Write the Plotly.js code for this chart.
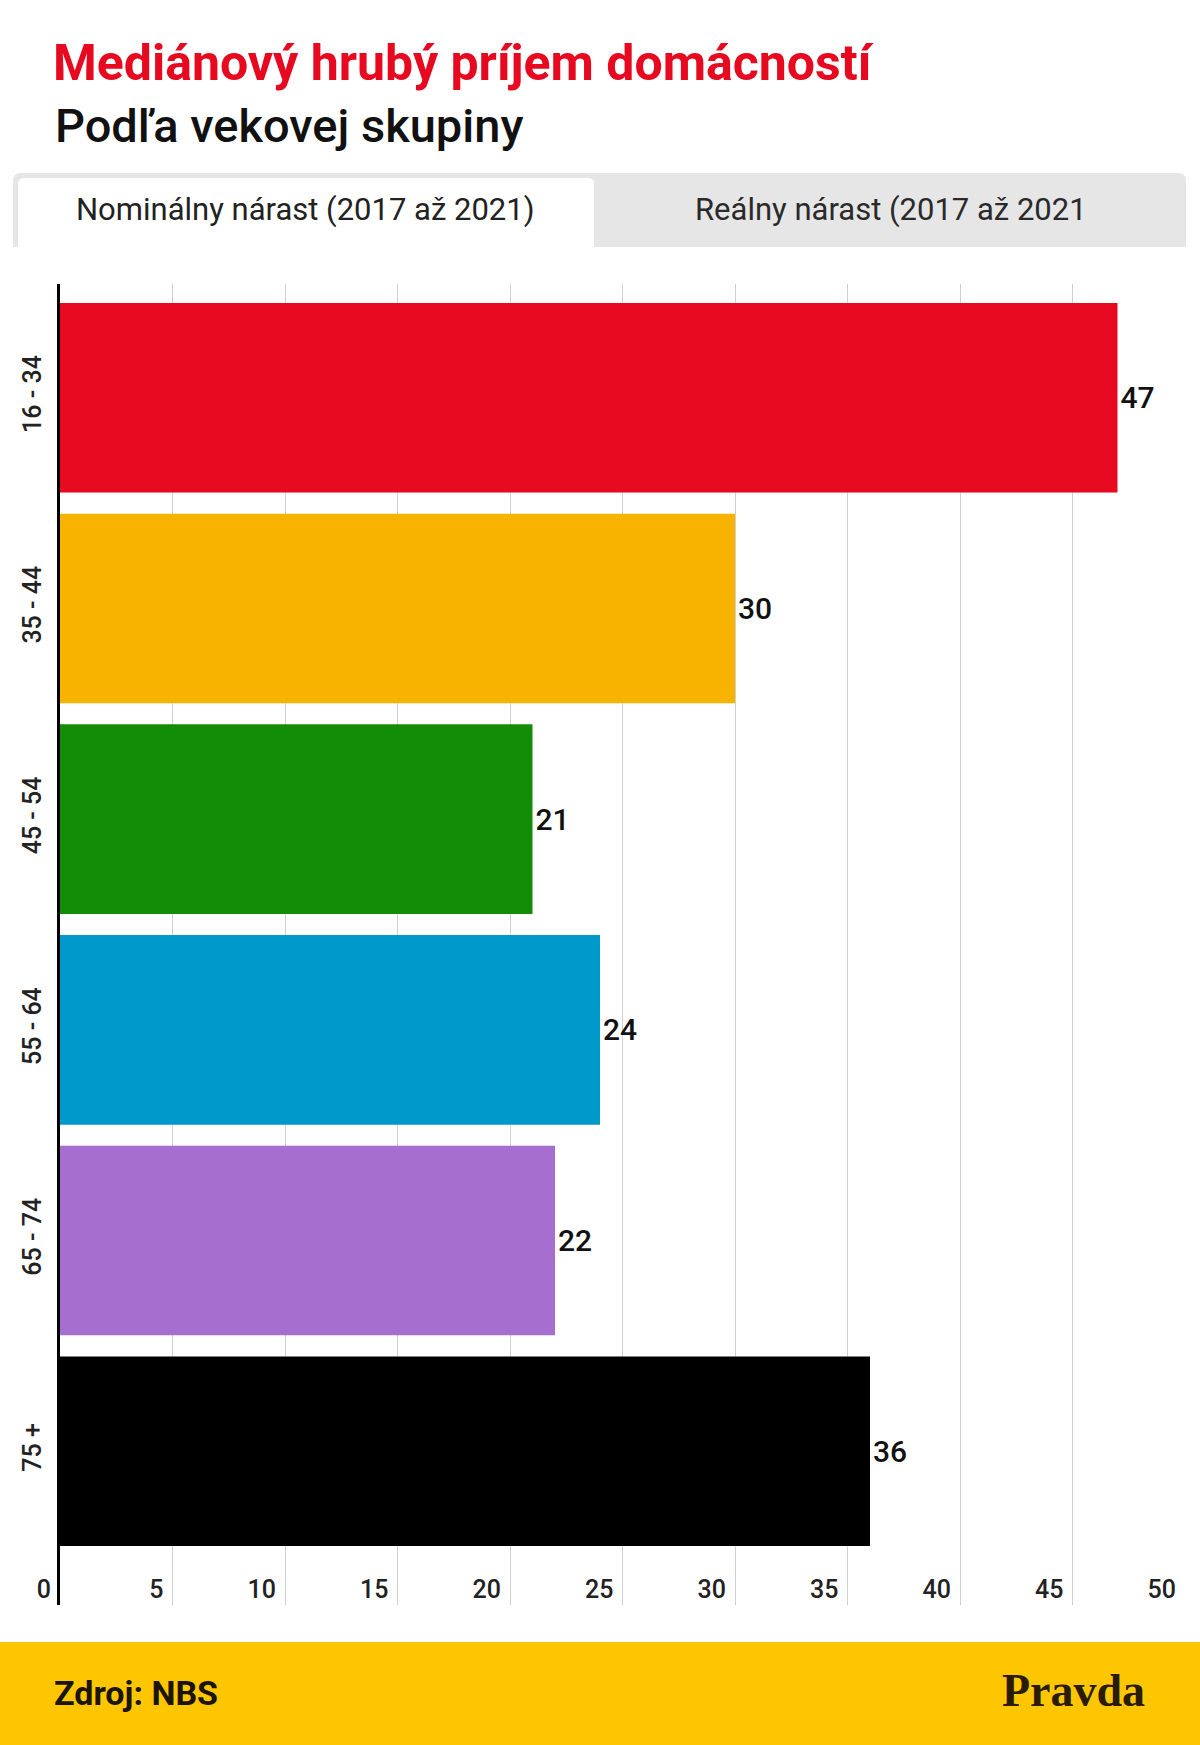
<!DOCTYPE html>
<html>
<head>
<meta charset="utf-8">
<script src="https://cdn.plot.ly/plotly-3.0.1.min.js"></script>
<style>html,body{margin:0;padding:0;background:#fff;}#chart{width:1200px;height:1745px;}</style>
</head>
<body>
<div id="chart"></div>
<script>
// ---- data ----
const categories = ['16 - 34', '35 - 44', '45 - 54', '55 - 64', '65 - 74', '75 +'];
const values = [47, 30, 21, 24, 22, 36];
const barColors = ['#E6091F', '#F8B300', '#138C07', '#0099CC', '#A66ECE', '#000000'];
const xTicks = [0, 5, 10, 15, 20, 25, 30, 35, 40, 45, 50];
const titleText = 'Mediánový hrubý príjem domácností';
const subtitleText = 'Podľa vekovej skupiny';
const tabActive = 'Nominálny nárast (2017 až 2021)';
const tabInactive = 'Reálny nárast (2017 až 2021';
const sourceText = 'Zdroj: NBS';
const logoText = 'Pravda';

// ---- layout helpers (pixel -> paper) ----
const W = 1200, H = 1745;
const M = {l: 60, r: 15, t: 284, b: 140};
const PW = W - M.l - M.r, PH = H - M.t - M.b;
const px = x => (x - M.l) / PW;
const py = y => (H - M.b - y) / PH;

function roundedTopRect(x0, y0, x1, y1, r) {
  const rx = r / PW, ry = r / PH;
  const X0 = px(x0), X1 = px(x1), Y0 = py(y0), Y1 = py(y1);
  return `M ${X0},${Y1} L ${X0},${Y0 - ry} Q ${X0},${Y0} ${X0 + rx},${Y0} ` +
         `L ${X1 - rx},${Y0} Q ${X1},${Y0} ${X1},${Y0 - ry} L ${X1},${Y1} Z`;
}

const font = 'Roboto, "Open Sans", sans-serif';

const trace = {
  type: 'bar',
  orientation: 'h',
  y: categories,
  x: values,
  marker: {color: barColors, line: {width: 0}},
  text: values.map(String),
  textposition: 'outside',
  constraintext: 'none',
  cliponaxis: false,
  textfont: {family: font, size: 30, color: '#111111', weight: 500},
  hoverinfo: 'skip'
};

const layout = {
  width: W, height: H,
  margin: M,
  paper_bgcolor: '#ffffff',
  plot_bgcolor: '#ffffff',
  showlegend: false,
  bargap: 0.1,
  title: {
    text: titleText,
    x: 53 / W, xanchor: 'left', xref: 'container',
    y: 1 - 62 / H, yanchor: 'middle', yref: 'container',
    font: {family: font, size: 50, color: '#E6091F', weight: 700}
  },
  xaxis: {
    range: [0, 50],
    tickvals: xTicks,
    ticktext: xTicks.map(String),
    showgrid: true,
    gridcolor: '#cfcfcf',
    gridwidth: 1,
    zeroline: false,
    showline: false,
    ticks: '',
    ticklabelposition: 'inside left',
    ticklabeloverflow: 'allow',
    ticklabelshift: -9,
    ticklabelstandoff: -4,
    tickfont: {family: font, size: 25, color: '#222222', weight: 500},
    fixedrange: true
  },
  yaxis: {
    type: 'category',
    categoryorder: 'array',
    categoryarray: categories,
    range: [5.73, -0.54],
    showline: true,
    linecolor: '#000000',
    linewidth: 3,
    showgrid: false,
    zeroline: false,
    ticks: '',
    tickangle: -90,
    ticklabelstandoff: 6,
    tickfont: {family: font, size: 25, color: '#222222', weight: 500},
    fixedrange: true
  },
  shapes: [
    {type: 'path', xref: 'paper', yref: 'paper', path: roundedTopRect(13, 173, 1186, 247, 8),
     fillcolor: '#e6e6e6', line: {width: 0}, layer: 'above'},
    {type: 'path', xref: 'paper', yref: 'paper', path: roundedTopRect(18, 178, 594, 247, 6),
     fillcolor: '#ffffff', line: {width: 0}, layer: 'above'},
    {type: 'rect', xref: 'paper', yref: 'paper', x0: px(0), x1: px(W), y0: py(1642), y1: py(H),
     fillcolor: '#FDC600', line: {width: 0}, layer: 'above'}
  ],
  annotations: [
    {text: subtitleText, xref: 'paper', yref: 'paper', x: px(53), y: py(125),
     xanchor: 'left', yanchor: 'middle', showarrow: false,
     font: {family: font, size: 47, color: '#111111', weight: 500}},
    {text: tabActive, xref: 'paper', yref: 'paper', x: px(305), y: py(210),
     xanchor: 'center', yanchor: 'middle', showarrow: false,
     font: {family: font, size: 31, color: '#222222'}},
    {text: tabInactive, xref: 'paper', yref: 'paper', x: px(891), y: py(210),
     xanchor: 'center', yanchor: 'middle', showarrow: false,
     font: {family: font, size: 31, color: '#2a2a2a'}},
    {text: sourceText, xref: 'paper', yref: 'paper', x: px(52), y: py(1693),
     xanchor: 'left', yanchor: 'middle', showarrow: false,
     font: {family: font, size: 34, color: '#1a1400', weight: 700}},
    {text: logoText, xref: 'paper', yref: 'paper', x: px(1147), y: py(1690),
     xanchor: 'right', yanchor: 'middle', showarrow: false,
     font: {family: '"Liberation Serif", "DejaVu Serif", serif', size: 46, color: '#2a1c00', weight: 700}}
  ]
};

Plotly.newPlot('chart', [trace], layout, {displayModeBar: false, staticPlot: true});
</script>
</body>
</html>
